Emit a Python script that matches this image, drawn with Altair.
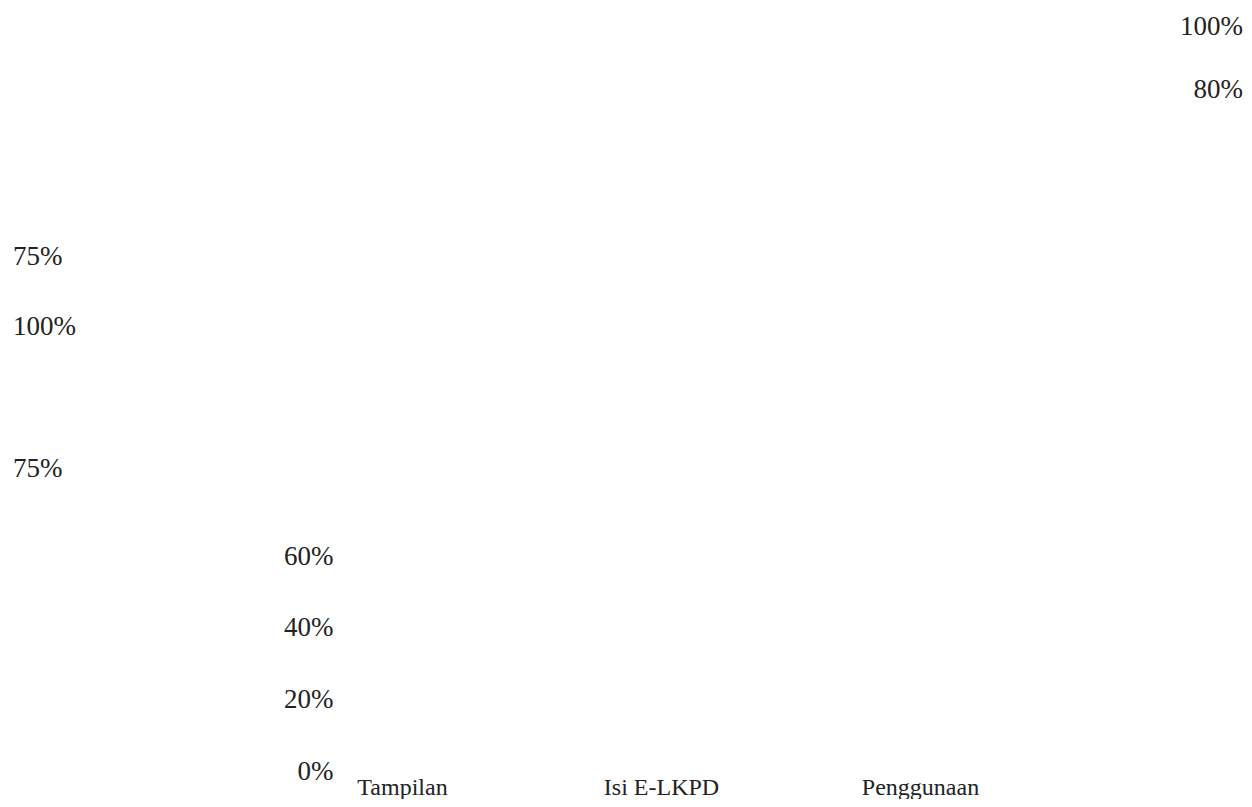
import altair as alt
import pandas as pd

# Categories and (unrendered) bar values
categories = ["Tampilan", "Isi E-LKPD", "Penggunaan"]
bar_values = [0.75, 1.00, 0.80]

# Y-axis tick labels shown
y_ticks = [0.0, 0.2, 0.4, 0.6]

# Stray data labels (left column and right column)
left_labels = ["75%", "100%", "75%"]
left_levels = [1.436, 1.240, 0.844]
right_labels = ["100%", "80%"]
right_levels = [2.078, 1.902]

bars_df = pd.DataFrame({"kategori": categories, "nilai": bar_values})
left_df = pd.DataFrame({"label": left_labels, "level": left_levels})
right_df = pd.DataFrame({"label": right_labels, "level": right_levels})

NUM_FONT = "Liberation Serif"
TXT_COLOR = "#222222"

yscale = alt.Scale(domain=[0, 1], nice=False, zero=True)

bars = alt.Chart(bars_df).mark_bar(opacity=0).encode(
    x=alt.X(
        "kategori:N",
        sort=categories,
        scale=alt.Scale(paddingInner=0, paddingOuter=0),
        axis=alt.Axis(
            title=None, labelAngle=0, domain=False, ticks=False, tickSize=0,
            labelPadding=15, labelBaseline="alphabetic",
            labelFont="Liberation Serif", labelFontSize=24, labelColor=TXT_COLOR,
            grid=False,
        ),
    ),
    y=alt.Y(
        "nilai:Q",
        scale=yscale,
        axis=alt.Axis(
            title=None, values=y_ticks, format=".0%", domain=False, ticks=False,
            tickSize=0, labelPadding=0, offset=-60, grid=False,
            labelBaseline="alphabetic", labelFlush=False,
            labelFont=NUM_FONT, labelFontSize=27, labelColor=TXT_COLOR,
        ),
    ),
)

left_text = alt.Chart(left_df).mark_text(
    align="left", baseline="alphabetic", font=NUM_FONT, fontSize=27, color=TXT_COLOR
).encode(
    x=alt.value(-260),
    y=alt.Y("level:Q", scale=yscale),
    text="label:N",
)

right_text = alt.Chart(right_df).mark_text(
    align="right", baseline="alphabetic", font=NUM_FONT, fontSize=27, color=TXT_COLOR
).encode(
    x=alt.value(970),
    y=alt.Y("level:Q", scale=yscale),
    text="label:N",
)

chart = alt.layer(bars, left_text, right_text).properties(
    width=777,
    height=358,
    autosize=alt.AutoSizeParams(type="none"),
    padding={"left": 265, "top": 413, "right": 194, "bottom": 20},
    background="white",
).configure_view(stroke=None)

chart.save("out.html", embed_options={"renderer": "svg", "actions": False})
